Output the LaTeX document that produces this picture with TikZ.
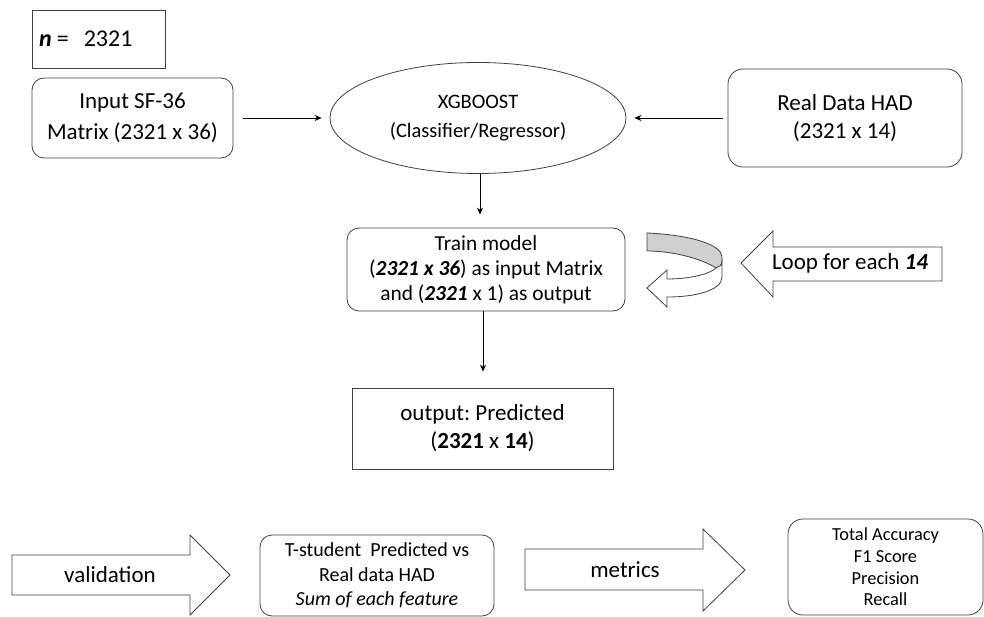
\documentclass[tikz,border=0pt]{standalone}
\usepackage{fontspec}
\setmainfont{Carlito}
\usetikzlibrary{shapes.geometric,arrows.meta}
\definecolor{edgegray}{HTML}{404040}
\definecolor{bandgray}{HTML}{D0D0D0}
\tikzset{
  box/.style={draw=edgegray, line width=0.8pt, align=center, inner sep=0pt},
  rbox/.style={box, rounded corners=12pt},
  conn/.style={draw=black, line width=0.8pt, -{Stealth[length=7pt,width=6pt]}},
  blockarrow/.style={draw=edgegray, line width=0.8pt, fill=white, line join=miter},
  txt/.style={inner sep=0pt, align=center}
}
\newcommand{\fs}[2]{\fontsize{#1}{#2}\selectfont}
\frenchspacing
\begin{document}
\begin{tikzpicture}[x=1pt,y=-1pt]
\useasboundingbox (0,0) rectangle (984,617);

% top row
\node[box, minimum width=133pt, minimum height=58pt] (nbox) at (98.5,39) {};
\node[txt, anchor=west, font=\fs{24}{28}] (ntext) at (39,39)
  {\textbf{\textit{n}}\hspace{5pt}=\hspace{15pt}2321};
\node[rbox, minimum width=201pt, minimum height=80pt, font=\fs{23}{31}] (input) at (132.5,118)
  {Input SF-36\\Matrix (2321 x 36)};
\node[box, ellipse, minimum width=296pt, minimum height=111pt, font=\fs{20.5}{29}] (xgb) at (478,118)
  {XGBOOST\\(Classifier/Regressor)};
\node[rbox, rounded corners=15pt, minimum width=234pt, minimum height=98pt, font=\fs{23}{28}] (real) at (845,118)
  {Real Data HAD\\(2321 x 14)};

% middle
\node[rbox, minimum width=278pt, minimum height=83pt, font=\fs{21.4}{25}] (train) at (486,269.5)
  {Train model\\(\textbf{\textit{2321 x 36}}) as input Matrix\\and (\textbf{\textit{2321}} x 1) as output};
\node[box, minimum width=261pt, minimum height=81pt, font=\fs{23}{28}] (output) at (482.5,428.5)
  {output: Predicted\\(\textbf{2321} x \textbf{14})};

% connectors
\draw[conn, shorten <=10pt, shorten >=8pt] (input.east) -- (xgb.west);
\draw[conn, shorten <=5pt, shorten >=8pt] (real.west) -- (xgb.east);
\coordinate (xgbbot) at (480,174);
\draw[conn, shorten >=13pt] (xgbbot) -- (xgbbot |- train.north);
\coordinate (trainbot) at (483,311);
\draw[conn, shorten >=16pt] (trainbot) -- (trainbot |- output.north);

% curved loop arrow
\fill[bandgray, draw=edgegray, line width=0.8pt, line join=round]
  (647,233) .. controls (692,235) and (722,245) .. (722,257)
  -- (722,262) .. controls (722,265) and (719,267) .. (716,268)
  .. controls (700,258) and (672,251) .. (647,251) -- cycle;
\draw[fill=white, draw=edgegray, line width=0.8pt, line join=miter]
  (722,262) -- (722,277) .. controls (722,290) and (697,297) .. (667,297)
  -- (667,307) -- (647,288) -- (667,270) -- (667,279)
  .. controls (690,279) and (710,274) .. (716,268)
  .. controls (719,267) and (722,265) .. (722,262) -- cycle;

% loop block arrow
\draw[blockarrow] (741,263) -- (773,231) -- (773,247) -- (942,247) -- (942,281)
  -- (773,281) -- (773,297) -- cycle;
\node[txt, font=\fs{23}{28}] (loop) at (850,263) {Loop for each \textbf{\textit{14}}};

% bottom row
\draw[blockarrow] (12,555) -- (190,555) -- (190,535) -- (230,575) -- (190,615)
  -- (190,595) -- (12,595) -- cycle;
\node[txt, font=\fs{23}{28}] (valid) at (110,575) {validation};

\node[rbox, minimum width=234pt, minimum height=81pt, font=\fs{20}{24.5}] (tstud) at (377,575.5)
  {T-student\ \ Predicted vs\\Real data HAD\\\textit{Sum of each feature}};

\draw[blockarrow] (525,549) -- (703,549) -- (703,529) -- (745,570) -- (703,611)
  -- (703,590) -- (525,590) -- cycle;
\node[txt, font=\fs{23}{28}] (metr) at (625,570) {metrics};

\node[rbox, rounded corners=15pt, minimum width=195pt, minimum height=96pt, font=\fs{18.4}{21.7}] (metbox) at (885.5,567)
  {Total Accuracy\\F1 Score\\Precision\\Recall};
\end{tikzpicture}
\end{document}
